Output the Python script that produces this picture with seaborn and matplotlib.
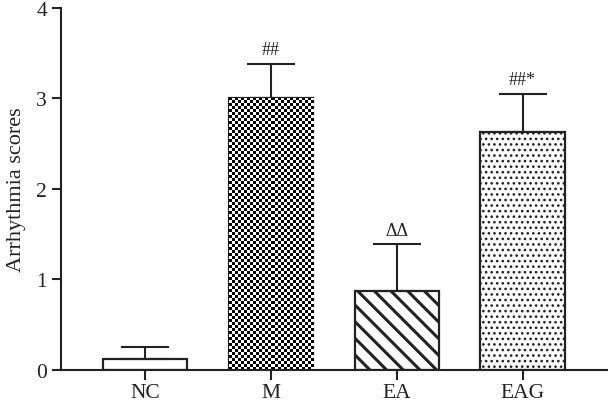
import matplotlib
matplotlib.use('Agg')
import matplotlib.pyplot as plt
import numpy as np
import pandas as pd
import seaborn as sns

groups = ['NC', 'M', 'EA', 'EAG']
scores = [0.12, 3.0, 0.87, 2.63]
sem = [0.13, 0.38, 0.52, 0.42]
marks = ['', '##', 'ΔΔ', '##*']

df = pd.DataFrame({'group': groups, 'score': scores})

sns.set_style('ticks')
plt.rcParams['font.family'] = ['Liberation Serif', 'DejaVu Serif']
plt.rcParams['hatch.linewidth'] = 2.2

fig = plt.figure(figsize=(6.08, 4.06), dpi=100)
ax = fig.add_axes([0.1003, 0.0862, 0.898, 0.8924])

sns.barplot(data=df, x='group', y='score', color='white', edgecolor='#222222',
            linewidth=1.6, width=0.67, errorbar=None, ax=ax)

# upper-only error bars
ax.errorbar(range(len(groups)), scores, yerr=[np.zeros(len(sem)), sem], fmt='none',
            ecolor='#222222', elinewidth=1.5, capsize=17, capthick=1.5, zorder=1)

ax.set_xlim(-0.667, 3.67)
ax.set_ylim(0, 4)

bars = ax.patches
bars[2].set_hatch('\\\\')
bars[3].set_hatch('...')
if hasattr(bars[3], 'set_hatch_linewidth'):
    bars[3].set_hatch_linewidth(1.1)

# checkerboard fill for the model group (no built-in hatch for this)
b = bars[1]
bx, by, bw, bh = b.get_x(), b.get_y(), b.get_width(), b.get_height()
fig.canvas.draw()
p0 = np.round(ax.transData.transform((bx, by)))
p1 = ax.transData.transform((bx + bw, by + bh))
nx = int(np.ceil((p1[0] - p0[0]) / 3))
ny = int(np.ceil((p1[1] - p0[1]) / 3))
inv = ax.transData.inverted()
e0 = inv.transform(p0)
e1 = inv.transform((p0[0] + nx * 3, p0[1] + ny * 3))
chk = (np.indices((ny, nx)).sum(axis=0) % 2).astype(float)
im = ax.imshow(chk, cmap='gray', vmin=0, vmax=1, interpolation='nearest',
               extent=(e0[0], e1[0], e0[1], e1[1]), aspect='auto',
               zorder=b.get_zorder() + 0.1)
im.set_clip_path(b)
ax.set_xlim(-0.667, 3.67)
ax.set_ylim(0, 4)

for i, m in enumerate(marks):
    if m:
        ax.annotate(m, (i, scores[i] + sem[i]), xytext=(0, 4), textcoords='offset points',
                    ha='center', va='bottom', fontsize=13, color='#222222')

ax.set_yticks([0, 1, 2, 3, 4])
ax.set_xlabel('')
ax.set_ylabel('Arrhythmia scores', fontsize=16, color='#222222', labelpad=7)
ax.tick_params(axis='y', length=6.5, width=1.5, labelsize=15.5, colors='#222222')
ax.tick_params(axis='x', length=7.5, width=1.5, labelsize=15.5, colors='#222222', pad=2)
sns.despine(ax=ax)
for s in ['left', 'bottom']:
    ax.spines[s].set_linewidth(1.5)
    ax.spines[s].set_color('#222222')

fig.savefig('out.png', dpi=100)
